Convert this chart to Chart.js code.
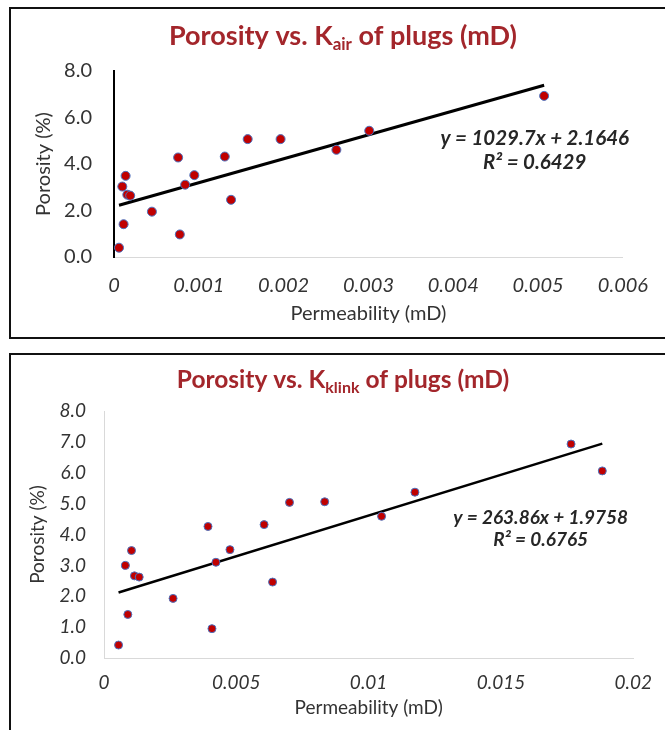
<!DOCTYPE html>
<html>
<head>
<meta charset="utf-8">
<script src="https://cdn.jsdelivr.net/npm/chart.js@4.4.1/dist/chart.umd.min.js"></script>
<style>
  body { margin: 0; width: 665px; height: 730px; overflow: hidden; background: #fff; position: relative; }
  .frame { position: absolute; border: 2px solid #111; box-sizing: border-box; }
  #frame1 { left: 9px; top: 7px; width: 680px; height: 332px; }
  #frame2 { left: 9px; top: 353px; width: 680px; height: 400px; }
  canvas { position: absolute; left: 0; }
  #chart1 { top: 0; }
  #chart2 { top: 345px; }
</style>
</head>
<body>
<div class="frame" id="frame1"></div>
<div class="frame" id="frame2"></div>
<canvas id="chart1" width="665" height="345"></canvas>
<canvas id="chart2" width="665" height="385"></canvas>
<script>
// Kair plot
const airPerm = [0.000059, 0.000113, 0.000098, 0.000137, 0.000157, 0.000191, 0.000447, 0.000756, 0.000776,
  0.000839, 0.000947, 0.001306, 0.00138, 0.001576, 0.001964, 0.002622, 0.003009, 0.005071];
const airPorosity = [0.40, 1.41, 3.03, 3.49, 2.68, 2.64, 1.95, 4.28, 0.97, 3.11, 3.52, 4.32, 2.46, 5.07, 5.07, 4.61, 5.43, 6.93];
const airFit = [1029.7, 2.1646]; // slope, intercept
const airEquation = ['y = 1029.7x + 2.1646', 'R² = 0.6429'];
const airXTicks = ['0', '0.001', '0.002', '0.003', '0.004', '0.005', '0.006'];
const airYTicks = ['0.0', '2.0', '4.0', '6.0', '8.0'];

// Kklink plot
const klinkPerm = [0.00055, 0.0009, 0.00081, 0.00104, 0.00115, 0.00133, 0.00261, 0.00393, 0.00408, 0.00423,
  0.00476, 0.00605, 0.00637, 0.00701, 0.00834, 0.01049, 0.01175, 0.01765, 0.01883];
const klinkPorosity = [0.42, 1.41, 3.00, 3.48, 2.66, 2.62, 1.93, 4.26, 0.95, 3.10, 3.51, 4.32, 2.46, 5.04, 5.06, 4.59, 5.37, 6.93, 6.06];
const klinkFit = [263.86, 1.9758];
const klinkEquation = ['y = 263.86x + 1.9758', 'R² = 0.6765'];
const klinkXTicks = ['0', '0.005', '0.01', '0.015', '0.02'];
const klinkYTicks = ['0.0', '1.0', '2.0', '3.0', '4.0', '5.0', '6.0', '7.0', '8.0'];

const FONT = 'Lato';
const TITLE_RED = '#A3262B';
const TEXT = '#333333';

const toPoints = (xs, ys) => xs.map((x, i) => ({ x: x, y: ys[i] }));

// trendline from the equation, drawn across the data range
const fitLine = (xs, fit) => {
  const lo = Math.min(...xs), hi = Math.max(...xs);
  return [{ x: lo, y: fit[0] * lo + fit[1] }, { x: hi, y: fit[0] * hi + fit[1] }];
};

// title with a subscript (K_air / K_klink)
const titlePlugin = (before, sub, after, size, cx, cy) => ({
  id: 'subTitle',
  afterDraw(chart) {
    const ctx = chart.ctx;
    ctx.save();
    const big = `bold ${size}px ${FONT}`;
    const small = `bold ${Math.round(size * 0.64)}px ${FONT}`;
    ctx.font = big;
    const w1 = ctx.measureText(before).width;
    const w3 = ctx.measureText(after).width;
    ctx.font = small;
    const w2 = ctx.measureText(sub).width;
    let x = cx - (w1 + w2 + w3) / 2;
    ctx.fillStyle = TITLE_RED;
    ctx.textBaseline = 'middle';
    ctx.textAlign = 'left';
    ctx.font = big;
    ctx.fillText(before, x, cy);
    x += w1;
    ctx.font = small;
    ctx.fillText(sub, x, cy + size * 0.32);
    x += w2;
    ctx.font = big;
    ctx.fillText(after, x, cy);
    ctx.restore();
  }
});

// trendline equation label, placed in data units
const equationPlugin = (lines, xVal, yVals, size) => ({
  id: 'equation',
  afterDraw(chart) {
    const ctx = chart.ctx;
    const px = chart.scales.x.getPixelForValue(xVal);
    ctx.save();
    ctx.font = `italic bold ${size}px ${FONT}`;
    ctx.fillStyle = '#262626';
    ctx.textAlign = 'center';
    ctx.textBaseline = 'middle';
    lines.forEach((line, i) => {
      ctx.fillText(line, px, chart.scales.y.getPixelForValue(yVals[i]));
    });
    ctx.restore();
  }
});

const makeChart = (canvasId, cfg) => new Chart(document.getElementById(canvasId), {
  type: 'scatter',
  data: {
    datasets: [
      {
        data: toPoints(cfg.xs, cfg.ys),
        backgroundColor: '#C00000',
        borderColor: '#4A72C0',
        borderWidth: 1,
        pointRadius: cfg.radius,
      },
      {
        type: 'line',
        data: fitLine(cfg.xs, cfg.fit),
        borderColor: '#000',
        borderWidth: cfg.lineWidth,
        pointRadius: 0,
        fill: false,
      },
    ],
  },
  options: {
    responsive: false,
    animation: false,
    layout: { padding: cfg.padding },
    plugins: { legend: { display: false }, tooltip: { enabled: false } },
    scales: {
      x: {
        type: 'linear',
        min: 0,
        max: cfg.xMax,
        grid: { display: false, drawTicks: false },
        border: { display: true, color: '#D9D9D9', width: 1 },
        ticks: {
          stepSize: cfg.xStep,
          padding: cfg.xTickPad,
          color: TEXT,
          font: { family: FONT, size: cfg.xTickSize, style: 'italic' },
          callback: (v, i) => cfg.xTicks[i],
          maxRotation: 0,
        },
        title: {
          display: true,
          text: 'Permeability (mD)',
          color: TEXT,
          padding: 0,
          font: { family: FONT, size: cfg.axisTitleSize },
        },
        afterFit: (s) => { s.height = cfg.xHeight; },
      },
      y: {
        min: 0,
        max: 8,
        grid: { display: false, drawTicks: false },
        border: { display: true, color: cfg.yBorder, width: cfg.yBorderWidth },
        ticks: {
          stepSize: cfg.yStep,
          padding: cfg.yTickPad,
          color: TEXT,
          font: { family: FONT, size: cfg.yTickSize, style: cfg.yTickStyle },
          callback: (v, i) => cfg.yTicks[i],
        },
        title: {
          display: true,
          text: 'Porosity (%)',
          color: TEXT,
          padding: 0,
          font: { family: FONT, size: cfg.axisTitleSize },
        },
        afterFit: (s) => { s.width = cfg.yWidth; },
      },
    },
  },
  plugins: cfg.extras,
});

makeChart('chart1', {
  xs: airPerm, ys: airPorosity, fit: airFit,
  radius: 4.5, lineWidth: 3,
  padding: { left: 32, right: 33, top: 71, bottom: 19 },
  xMax: 0.006, xStep: 0.001, xTicks: airXTicks, xTickPad: 17, xTickSize: 20, xHeight: 69,
  yStep: 2, yTicks: airYTicks, yTickPad: 22, yTickSize: 20, yTickStyle: 'normal', yWidth: 82,
  yBorder: '#000', yBorderWidth: 2,
  axisTitleSize: 20,
  extras: [
    titlePlugin('Porosity vs. K', 'air', ' of plugs (mD)', 27, 343, 36),
    equationPlugin(airEquation, 0.00496, [5.12, 4.06], 20.5),
  ],
});

makeChart('chart2', {
  xs: klinkPerm, ys: klinkPorosity, fit: klinkFit,
  radius: 4, lineWidth: 2.5,
  padding: { left: 26, right: 25, top: 66, bottom: 11 },
  xMax: 0.02, xStep: 0.005, xTicks: klinkXTicks, xTickPad: 13, xTickSize: 19, xHeight: 61,
  yStep: 1, yTicks: klinkYTicks, yTickPad: 18, yTickSize: 19, yTickStyle: 'italic', yWidth: 78,
  yBorder: '#D9D9D9', yBorderWidth: 1,
  axisTitleSize: 19,
  extras: [
    titlePlugin('Porosity vs. K', 'klink', ' of plugs (mD)', 24.5, 343, 35),
    equationPlugin(klinkEquation, 0.0165, [4.53, 3.83], 19),
  ],
});
</script>
</body>
</html>
